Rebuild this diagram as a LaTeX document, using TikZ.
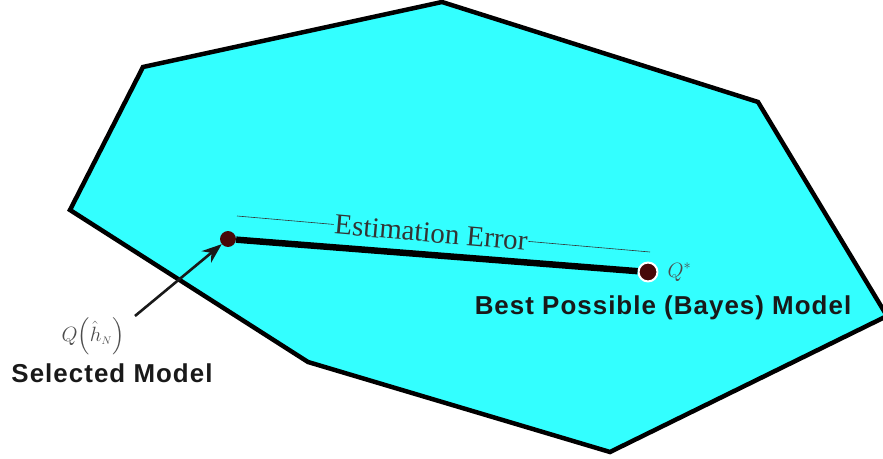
\documentclass[tikz,border=0pt]{standalone}
\usepackage{amsmath}
\usepackage{fontspec}
\setmainfont{Liberation Serif}
\newfontfamily\labelfont[LetterSpace=4]{Liberation Sans}
\usetikzlibrary{arrows.meta, positioning}
\definecolor{regioncyan}{RGB}{51,255,255}
\definecolor{dotred}{RGB}{72,8,8}
\tikzset{
  % hypothesis region
  region/.style={draw=black, line width=4.5pt, fill=regioncyan, line join=miter},
  % model points
  model/.style={circle, fill=dotred, inner sep=0pt, minimum size=#1},
  model/.default={15pt},
  % labels
  biglabel/.style={font=\labelfont\bfseries\fontsize{26}{30}\selectfont, text=black!90},
  mathlabel/.style={text=black!70, inner sep=1pt},
  errlabel/.style={font=\fontsize{29}{32}\selectfont, text=black!80, fill=regioncyan, inner sep=1pt},
  arrow/.style={-{Stealth[length=20pt, width=15pt]}, line width=2.6pt, black!90},
}

\begin{document}
\begin{tikzpicture}[x=1bp, y=-1bp]
    \useasboundingbox (0,0) rectangle (883,459);

    % Region of possible models
    \draw[region] (143,67) -- (442,2) -- (758,102) -- (887,316) -- (610,452)
      -- (308,362) -- (70,210) -- cycle;

    % Estimation error annotation
    \coordinate (errA) at (237,216);
    \coordinate (errB) at (650,252);
    \draw[line width=0.6pt, black!80] (errA) -- node[errlabel, sloped, pos=0.47] (err) {Estimation Error} (errB);

    % Models
    \node[model=16pt] (sel) at (228,239) {};
    \node[model=19pt, draw=white, line width=2pt] (best) at (648,272) {};
    \draw[line width=6.5pt, black] (sel) -- (best);

    % Labels
    \node[mathlabel, font=\fontsize{22}{24}\selectfont] (qhat) at (93,336) {$Q\Bigl(\hat{h}_{\scriptscriptstyle N}\Bigr)$};
    \node[biglabel, anchor=north] (selname) at (112,360) {Selected Model};
    \node[mathlabel, font=\fontsize{20}{24}\selectfont, right=8pt of best] (qstar) {$Q^{*}$};
    \node[biglabel] (bestname) at (663,308) {Best Possible (Bayes) Model};

    % Arrow to selected model
    \coordinate (arrstart) at (135,316);
    \draw[arrow] (arrstart) -- (sel);
  \end{tikzpicture}
\end{document}
